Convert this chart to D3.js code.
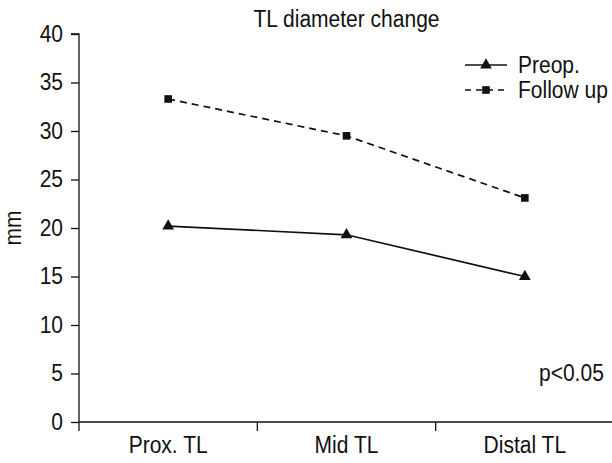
<!DOCTYPE html>
<html>
<head>
<meta charset="utf-8">
<script src="https://cdn.jsdelivr.net/npm/d3@7"></script>
<style>
  html, body { margin: 0; padding: 0; background: #fff; }
  svg text { font-family: "Liberation Sans", Arial, sans-serif; fill: #111; }
</style>
</head>
<body>
<div id="chart"></div>
<script>
// data
const categories = ["Prox. TL", "Mid TL", "Distal TL"];
const preop = [20.2, 19.3, 15.0];
const followUp = [33.3, 29.5, 23.1];
const yTicks = [0, 5, 10, 15, 20, 25, 30, 35, 40];
const seriesNames = ["Preop.", "Follow up"];

const width = 612;
const height = 463;
const margin = { top: 34, right: -2, bottom: 41, left: 79 };
const ink = "#111";
const fs = 21;      // size that gives the right text widths
const fsTall = 23;  // drawn size, squeezed back to the width above (narrow look)

const svg = d3.select("#chart").append("svg")
  .attr("width", width)
  .attr("height", height);

const x = d3.scaleBand().domain(categories).range([margin.left, width - margin.right]).padding(0);
const y = d3.scaleLinear().domain([0, 40]).range([height - margin.bottom, margin.top]);

// helper: make text look like a condensed face
function narrow(sel) {
  sel.each(function () {
    const t = d3.select(this).attr("font-size", fs);
    const w = this.getComputedTextLength();
    t.attr("font-size", fsTall)
      .attr("textLength", w)
      .attr("lengthAdjust", "spacingAndGlyphs");
  });
}

// y axis
const yAxis = svg.append("g")
  .attr("transform", `translate(${margin.left},0)`)
  .call(d3.axisLeft(y).tickValues(yTicks).tickSize(8).tickPadding(8).tickFormat(d3.format("d")));
yAxis.selectAll("text").style("font-family", null).call(narrow);
yAxis.selectAll("line, path").attr("stroke", ink).attr("stroke-width", 1.3);
yAxis.select(".domain").attr("d", `M-8,${y(40)}H0V${y(0)}`);

// x axis: labels centred in bands, ticks at band edges
const xAxis = svg.append("g")
  .attr("transform", `translate(0,${y(0)})`)
  .call(d3.axisBottom(x).tickSize(0).tickPadding(15));
xAxis.selectAll("text").attr("dy", "0.71em").style("font-family", null).call(narrow);
xAxis.select(".domain").attr("stroke", ink).attr("stroke-width", 1.3)
  .attr("d", `M${x.range()[0]},0H${x.range()[1]}`);
const edges = categories.map(c => x(c)).concat([x.range()[1]]);
xAxis.selectAll(".edge").data(edges).join("line")
  .attr("class", "edge")
  .attr("x1", d => d).attr("x2", d => d)
  .attr("y1", 0).attr("y2", 9)
  .attr("stroke", ink).attr("stroke-width", 1.3);

// y title
svg.append("text")
  .attr("transform", `translate(21,${(y(0) + y(40)) / 2}) rotate(-90)`)
  .attr("text-anchor", "middle")
  .text("mm")
  .call(narrow);

// chart title
svg.append("text")
  .attr("x", (x.range()[0] + x.range()[1]) / 2)
  .attr("y", 27)
  .attr("text-anchor", "middle")
  .text("TL diameter change")
  .call(narrow);

const cx = c => x(c) + x.bandwidth() / 2;
const line = d3.line().x(d => cx(d.cat)).y(d => y(d.v));

const series = [
  { name: seriesNames[0], values: preop, dash: null, symbol: d3.symbolTriangle, size: 60 },
  { name: seriesNames[1], values: followUp, dash: "7,5", symbol: d3.symbolSquare, size: 58 }
];

for (const s of series) {
  const pts = categories.map((c, i) => ({ cat: c, v: s.values[i] }));
  svg.append("path")
    .datum(pts)
    .attr("d", line)
    .attr("fill", "none")
    .attr("stroke", ink)
    .attr("stroke-width", 1.7)
    .attr("stroke-dasharray", s.dash);
  svg.selectAll(null).data(pts).join("path")
    .attr("transform", d => `translate(${cx(d.cat)},${y(d.v)})`)
    .attr("d", d3.symbol(s.symbol, s.size))
    .attr("fill", ink);
}

// legend
const legend = svg.append("g").attr("transform", "translate(465,65)");
series.forEach((s, i) => {
  const gy = i * 25;
  legend.append("line")
    .attr("x1", 0).attr("x2", 42)
    .attr("y1", gy).attr("y2", gy)
    .attr("stroke", ink).attr("stroke-width", 1.7)
    .attr("stroke-dasharray", s.dash ? "6,5" : null);
  legend.append("path")
    .attr("transform", `translate(21,${gy})`)
    .attr("d", d3.symbol(s.symbol, s.size))
    .attr("fill", ink);
  legend.append("text")
    .attr("x", 53).attr("y", gy + 8)
    .text(s.name)
    .call(narrow);
});

// significance note
svg.append("text")
  .attr("x", 539).attr("y", 381)
  .text("p<0.05")
  .call(narrow);
</script>
</body>
</html>
